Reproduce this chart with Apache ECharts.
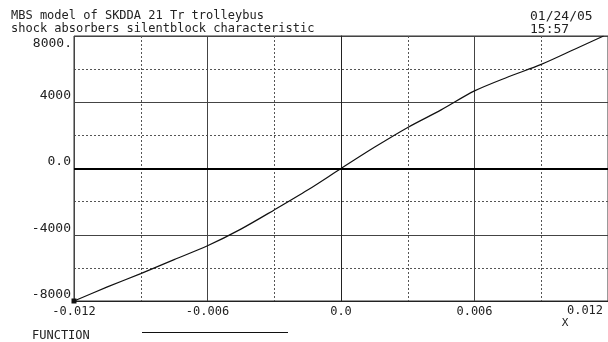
<!DOCTYPE html>
<html>
<head>
<meta charset="utf-8">
<script src="https://cdn.jsdelivr.net/npm/echarts@6/dist/echarts.min.js"></script>
<style>
html, body { margin: 0; padding: 0; background: #fff; }
#main { width: 608px; height: 342px; }
</style>
</head>
<body>
<div id="main"></div>
<script>
// curve: x displacement -> force
var xVals = [-0.012, -0.0105, -0.009, -0.0075, -0.006, -0.0045, -0.003, -0.0015, 0, 0.0015, 0.003, 0.0045, 0.006, 0.0075, 0.009, 0.0105, 0.0118];
var yVals = [-8000, -7150, -6345, -5500, -4667, -3660, -2500, -1300, 0, 1280, 2480, 3540, 4685, 5525, 6285, 7200, 8000];

var xTicks = [-0.012, -0.006, 0, 0.006, 0.012];
var xTickText = ['-0.012', '-0.006', '0.0', '0.006', '0.012'];
var yTicks = [-8000, -4000, 0, 4000, 8000];
var yTickText = ['-8000', '-4000', '0.0', '4000', '8000.'];

var titleLines = ['MBS model of SKDDA 21 Tr trolleybus', 'shock absorbers silentblock characteristic'];
var dateLines = ['01/24/05', '15:57'];
var legendText = 'FUNCTION';
var xName = 'X';

var font = 'DejaVu Sans Mono';

function tickLabel(v, ticks, texts) {
    for (var i = 0; i < ticks.length; i++) {
        if (Math.abs(v - ticks[i]) < 1e-9) return texts[i];
    }
    return '';
}

var pts = [];
for (var i = 0; i < xVals.length; i++) {
    if (i == 0) {
        pts.push({value: [xVals[i], yVals[i]], symbol: 'rect', symbolSize: 5});
    } else {
        pts.push([xVals[i], yVals[i]]);
    }
}

var myChart = echarts.init(document.getElementById('main'));

var option = {
    backgroundColor: '#fff',
    animation: false,
    grid: {
        left: 74,
        right: -3,
        top: 36,
        bottom: 41,
        show: true,
        borderColor: '#333',
        borderWidth: 1
    },
    xAxis: {
        type: 'value',
        min: -0.012,
        max: 0.012,
        interval: 0.006,
        axisLine: {onZero: false, lineStyle: {color: '#222', width: 1}},
        axisTick: {show: false},
        axisLabel: {
            margin: 5,
            fontFamily: font,
            fontSize: 12,
            color: '#222',
            showMaxLabel: false,
            formatter: function (v) { return tickLabel(v, xTicks, xTickText); }
        },
        splitLine: {show: true, lineStyle: {color: '#444', width: 1}},
        minorTick: {show: false, splitNumber: 2},
        minorSplitLine: {show: true, lineStyle: {color: '#555', width: 1, type: [2, 2]}}
    },
    yAxis: {
        type: 'value',
        min: -8000,
        max: 8000,
        interval: 4000,
        axisLine: {show: true, lineStyle: {color: '#222', width: 1}},
        axisTick: {show: false},
        axisLabel: {
            margin: 3,
            fontFamily: font,
            fontSize: 13,
            color: '#222',
            verticalAlign: 'bottom',
            showMaxLabel: false,
            formatter: function (v) { return tickLabel(v, yTicks, yTickText); }
        },
        splitLine: {show: true, lineStyle: {color: '#444', width: 1}},
        minorTick: {show: false, splitNumber: 2},
        minorSplitLine: {show: true, lineStyle: {color: '#555', width: 1, type: [2, 2]}}
    },
    graphic: [
        {type: 'text', left: 11, top: 10, style: {text: titleLines[0], font: '12px ' + font, fill: '#222'}},
        {type: 'text', left: 11, top: 23, style: {text: titleLines[1], font: '12px ' + font, fill: '#222'}},
        {type: 'text', left: 530, top: 10, style: {text: dateLines[0], font: '13px ' + font, fill: '#222'}},
        {type: 'text', left: 530, top: 23, style: {text: dateLines[1], font: '13px ' + font, fill: '#222'}},
        {type: 'text', x: 72, y: 44, style: {text: yTickText[4], font: '13px ' + font, fill: '#222', align: 'right', verticalAlign: 'middle'}},
        {type: 'text', x: 585, y: 311, style: {text: xTickText[4], font: '12px ' + font, fill: '#222', align: 'center', verticalAlign: 'middle'}},
        {type: 'text', x: 565, y: 323, style: {text: xName, font: '11px ' + font, fill: '#222', align: 'center', verticalAlign: 'middle'}},
        {type: 'text', x: 32, y: 336, style: {text: legendText, font: '12px ' + font, fill: '#222', verticalAlign: 'middle'}},
        {type: 'line', shape: {x1: 142, y1: 332.5, x2: 288, y2: 332.5}, style: {stroke: '#111', lineWidth: 1}}
    ],
    series: [
        {
            name: legendText,
            type: 'line',
            data: pts,
            smooth: 0.3,
            showSymbol: true,
            symbol: 'none',
            lineStyle: {color: '#111', width: 1.2},
            itemStyle: {color: '#111'},
            markLine: {
                silent: true,
                symbol: 'none',
                label: {show: false},
                lineStyle: {color: '#000', width: 2, type: 'solid'},
                data: [{yAxis: 0}]
            }
        }
    ]
};

myChart.setOption(option);
</script>
</body>
</html>
